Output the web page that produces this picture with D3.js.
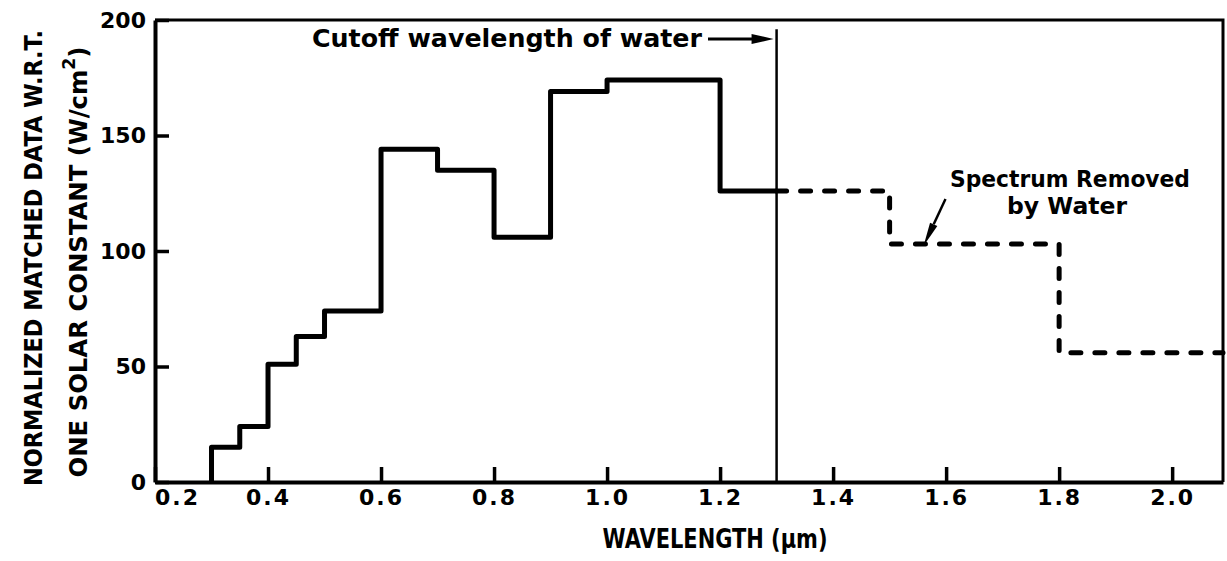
<!DOCTYPE html>
<html>
<head>
<meta charset="utf-8">
<script src="https://cdn.jsdelivr.net/npm/d3@7"></script>
<style>
body{margin:0;background:#fff;}
svg text{font-family:"DejaVu Sans",sans-serif;font-weight:bold;fill:#000;}
</style>
</head>
<body>
<script>
// measured spectrum, band edges (um) and level per band
var stepEdges=[0.3,0.35,0.4,0.45,0.5,0.6,0.7,0.8,0.9,1.0,1.2,1.3];
var stepValues=[15,24,51,63,74,144,135,106,169,174,126];
// part beyond the water cutoff (dashed)
var removedEdges=[1.3,1.5,1.8,2.09];
var removedValues=[126,103,56];
var xTicks=[0.2,0.4,0.6,0.8,1.0,1.2,1.4,1.6,1.8,2.0];
var yTicks=[0,50,100,150,200];
var cutoff=1.3;

var w=1227,h=561;
var svg=d3.select('body').append('svg').attr('width',w).attr('height',h);
var x=d3.scaleLinear().domain([0.2,2.09]).range([155,1223]);
var y=d3.scaleLinear().domain([0,200]).range([482,20]);

function steps(edges,vals,fromZero){
  var p=[];
  if(fromZero) p.push([edges[0],0]);
  vals.forEach(function(v,i){
    p.push([edges[i],v]);
    p.push([edges[i+1],v]);
  });
  return p;
}
var line=d3.line().x(function(d){return x(d[0]);}).y(function(d){return y(d[1]);});

// frame top + right
svg.append('path')
  .attr('d','M'+x(0.2)+','+y(200)+'H'+x(2.09)+'V'+y(0))
  .attr('fill','none').attr('stroke','#000').attr('stroke-width',3);

// axes
var xAxis=d3.axisBottom(x).tickValues(xTicks).tickSize(-15).tickSizeOuter(0).tickPadding(7)
  .tickFormat(d3.format('.1f'));
var gx=svg.append('g').attr('transform','translate(0,'+y(0)+')').call(xAxis);
var yAxis=d3.axisLeft(y).tickValues(yTicks).tickSize(-14).tickSizeOuter(0).tickPadding(9);
var gy=svg.append('g').attr('transform','translate('+x(0.2)+',0)').call(yAxis);

[gx,gy].forEach(function(g){
  g.attr('font-family',null).attr('font-size',null);
  g.select('.domain').attr('stroke-width',4);
  g.selectAll('.tick line').attr('stroke-width',3.5);
  g.selectAll('.tick text').style('font-size','22px');
});
gx.selectAll('.tick text').attr('letter-spacing','2px')
  .attr('dx',function(d){return d===0.2?22:0;});

// cutoff line
svg.append('line')
  .attr('x1',x(cutoff)).attr('x2',x(cutoff))
  .attr('y1',y(196)).attr('y2',y(0))
  .attr('stroke','#000').attr('stroke-width',2.5);

// spectrum
svg.append('path').datum(steps(stepEdges,stepValues,true))
  .attr('d',line).attr('fill','none').attr('stroke','#000')
  .attr('stroke-width',5).attr('stroke-linejoin','round');
svg.append('path').datum(steps(removedEdges,removedValues,false))
  .attr('d',line).attr('fill','none').attr('stroke','#000')
  .attr('stroke-width',5).attr('stroke-linecap','round')
  .attr('stroke-dasharray','10 14');

// titles
svg.append('text')
  .attr('transform','translate(42,258) rotate(-90)')
  .attr('text-anchor','middle').attr('textLength',456).attr('lengthAdjust','spacingAndGlyphs')
  .style('font-size','24px').text('NORMALIZED MATCHED DATA W.R.T.');
var t2=svg.append('text')
  .attr('transform','translate(87,262) rotate(-90)')
  .attr('text-anchor','middle').attr('textLength',431).attr('lengthAdjust','spacingAndGlyphs')
  .style('font-size','24px');
t2.append('tspan').text('ONE SOLAR CONSTANT (W/cm');
t2.append('tspan').attr('dy',-12).style('font-size','17px').text('2');
t2.append('tspan').attr('dy',12).text(')');

svg.append('text')
  .attr('x',715).attr('y',548).attr('text-anchor','middle')
  .attr('textLength',225).attr('lengthAdjust','spacingAndGlyphs')
  .style('font-size','26px').text('WAVELENGTH (\u00b5m)');

// annotations
svg.append('text')
  .attr('x',312).attr('y',47)
  .attr('textLength',390).attr('lengthAdjust','spacingAndGlyphs')
  .style('font-size','24px').text('Cutoff wavelength of water');
var ay=39, ax=x(cutoff)-3;
svg.append('line').attr('x1',708).attr('x2',ax-14).attr('y1',ay).attr('y2',ay)
  .attr('stroke','#000').attr('stroke-width',3);
svg.append('path').attr('d','M'+ax+','+ay+'L'+(ax-22)+','+(ay-5)+'L'+(ax-22)+','+(ay+5)+'Z')
  .attr('fill','#000');

svg.append('text')
  .attr('x',1070).attr('y',187).attr('text-anchor','middle')
  .attr('textLength',240).attr('lengthAdjust','spacingAndGlyphs')
  .style('font-size','23px').text('Spectrum Removed');
svg.append('text')
  .attr('x',1067).attr('y',214).attr('text-anchor','middle')
  .attr('textLength',120).attr('lengthAdjust','spacingAndGlyphs')
  .style('font-size','23px').text('by Water');

var tip=[x(1.56),y(103)+2], tail=[tip[0]+22,tip[1]-47];
var len=Math.hypot(tail[0]-tip[0],tail[1]-tip[1]);
var ux=(tail[0]-tip[0])/len, uy=(tail[1]-tip[1])/len;
var bx=tip[0]+ux*24, by=tip[1]+uy*24;
svg.append('line').attr('x1',bx).attr('y1',by).attr('x2',tail[0]).attr('y2',tail[1])
  .attr('stroke','#000').attr('stroke-width',2.5);
svg.append('path')
  .attr('d','M'+tip[0]+','+tip[1]+'L'+(bx-uy*4)+','+(by+ux*4)+'L'+(bx+uy*4)+','+(by-ux*4)+'Z')
  .attr('fill','#000');
</script>
</body>
</html>
